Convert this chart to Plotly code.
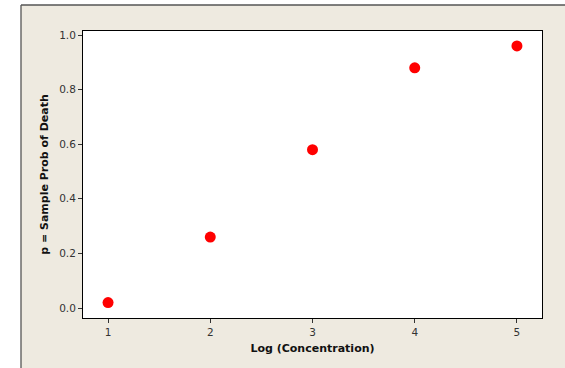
import plotly.graph_objects as go

log_conc = [1, 2, 3, 4, 5]
prob_death = [0.02, 0.26, 0.58, 0.88, 0.96]
x_ticks = [1, 2, 3, 4, 5]
y_ticks = [0.0, 0.2, 0.4, 0.6, 0.8, 1.0]
y_tick_labels = ["0.0", "0.2", "0.4", "0.6", "0.8", "1.0"]

W, H = 565, 368
L, R, T, B = 83, 23, 31, 50
pw, ph = W - L - R, H - T - B

def px_x(x):
    return (x - L) / pw

def px_y(y):
    return (H - B - y) / ph

fig = go.Figure()
fig.add_trace(go.Scatter(
    x=log_conc, y=prob_death, mode="markers",
    marker=dict(color="#FF0000", size=11, line=dict(width=0)),
    showlegend=False, hoverinfo="skip",
))

beige = "#EEEAE0"
border = "#555555"
shapes = [
    dict(type="rect", xref="paper", yref="paper", x0=px_x(-20), x1=px_x(21), y0=px_y(400), y1=px_y(-20),
         fillcolor="white", line=dict(width=0), layer="below"),
    dict(type="rect", xref="paper", yref="paper", x0=px_x(-20), x1=px_x(600), y0=px_y(5), y1=px_y(-20),
         fillcolor="white", line=dict(width=0), layer="below"),
    dict(type="line", xref="paper", yref="paper", x0=px_x(21), x1=px_x(21), y0=px_y(5), y1=px_y(400),
         line=dict(color=border, width=1.3), layer="below"),
    dict(type="line", xref="paper", yref="paper", x0=px_x(21), x1=px_x(600), y0=px_y(5), y1=px_y(5),
         line=dict(color=border, width=1.3), layer="below"),
]

fig.update_layout(
    width=W, height=H,
    margin=dict(l=L, r=R, t=T, b=B, pad=0),
    paper_bgcolor=beige, plot_bgcolor="white",
    font=dict(family="DejaVu Sans, Verdana, sans-serif", color="#333333", size=10.5),
    shapes=shapes,
    xaxis=dict(
        range=[0.755, 5.245], tickvals=x_ticks, ticks="outside", ticklen=4, tickwidth=1,
        tickcolor="#333333", showgrid=False, zeroline=False,
        showline=True, linecolor="black", linewidth=1, mirror=True,
        title=dict(text="<b>Log (Concentration)</b>", font=dict(size=11, color="#111111"), standoff=7),
    ),
    yaxis=dict(
        range=[-0.0366, 1.0147], tickvals=y_ticks, ticktext=y_tick_labels, ticks="outside",
        ticklen=4, tickwidth=1, tickcolor="#333333", showgrid=False, zeroline=False,
        showline=True, linecolor="black", linewidth=1, mirror=True,
        title=dict(text="<b>p = Sample Prob of Death</b>", font=dict(size=11, color="#111111"), standoff=8),
    ),
)

fig.write_html("out.html", config={"displayModeBar": False},
               post_script="document.body.style.margin='0';document.body.style.overflow='hidden';")
